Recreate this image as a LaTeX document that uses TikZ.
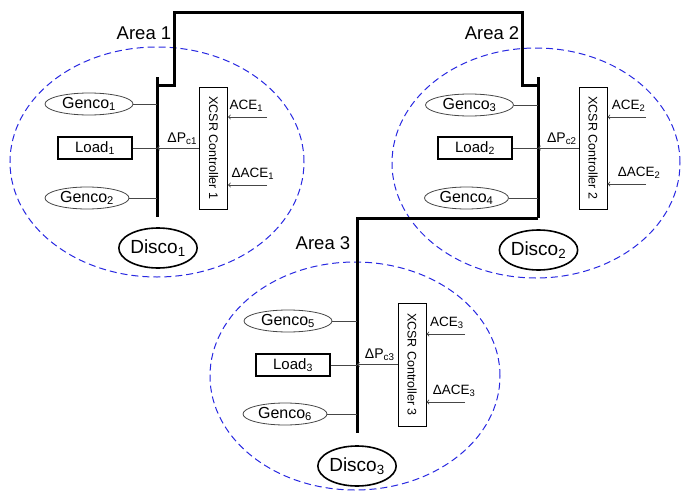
\documentclass[tikz,border=0pt]{standalone}
\usepackage{fontspec}
\setmainfont{Liberation Sans}
\usetikzlibrary{positioning,arrows,shapes.geometric}
\definecolor{areablue}{RGB}{40,40,225}
\definecolor{wiregray}{RGB}{70,70,70}

\begin{document}
\begin{tikzpicture}[x=1pt, y=-1pt,
		gen/.style={draw=wiregray, line width=0.8pt, ellipse, minimum width=88pt,
					minimum height=22pt, inner sep=0pt, font=\fontsize{16}{18}\selectfont},
		load/.style={draw, line width=1.2pt, minimum width=74pt, minimum height=22pt,
					inner sep=0pt, font=\fontsize{15}{17}\selectfont},
		disco/.style={draw, line width=1.6pt, ellipse, minimum width=78pt,
					minimum height=40pt, inner sep=0pt, font=\fontsize{19}{21}\selectfont},
		ctrl/.style={draw, line width=1pt, rotate=-90, minimum width=122pt,
					minimum height=28pt, inner sep=0pt, font=\fontsize{12.5}{14}\selectfont},
		lbl/.style={inner sep=1pt, font=\fontsize{13.5}{16}\selectfont},
		dplbl/.style={inner sep=1pt, font=\fontsize{14}{16}\selectfont},
		arealbl/.style={font=\fontsize{18.5}{20}\selectfont},
		zone/.style={draw=areablue, line width=1pt, dash pattern=on 7pt off 4pt},
		wire/.style={draw=wiregray, line width=0.9pt},
		arrow/.style={wire, ->},
		tie/.style={line width=3pt, line join=miter}
	]
		\useasboundingbox (0,0) rectangle (681,493);

		% area boundaries
		\draw[zone] (157,162) ellipse [x radius=147pt, y radius=115pt];
		\draw[zone] (536,163) ellipse [x radius=144pt, y radius=115pt];
		\draw[zone] (355,376) ellipse [x radius=145pt, y radius=114pt];

		\node[arealbl] (ar1) at (144,33) {Area 1};
		\node[arealbl] (ar2) at (492,33) {Area 2};
		\node[arealbl] (ar3) at (323,243) {Area 3};

		% buses and tie lines
		\coordinate (b1t) at (157,77);
		\coordinate (b1b) at (157,217);
		\coordinate (b2t) at (538,77);
		\coordinate (b2b) at (538,218);
		\coordinate (b3b) at (357,433);
		\coordinate (t1) at (157,85);
		\coordinate (t2) at (538,85);
		\draw[tie] (b1t) -- (b1b);
		\draw[tie] (b2t) -- (b2b);
		\draw[tie] (t1) -- ++(17,0) |- (522,12) |- (t2);
		\draw[tie] (b2b) -| (b3b);

		% Area 1
		\node[gen] (g1) at (89,104) {Genco\textsubscript{1}};
		\node[load] (l1) at (95,148) {Load\textsubscript{1}};
		\node[gen, minimum width=84pt] (g2) at (87,198) {Genco\textsubscript{2}};
		\node[disco] (d1) at (158,248) {Disco\textsubscript{1}};
		\node[ctrl] (c1) at (213.5,148) {XCSR Controller 1};
		\coordinate (a1) at (267,117);
		\coordinate (da1) at (267,185);

		\draw[wire] (g1.east) -- (g1.east -| b1t);
		\draw[wire] (l1.east) -- (l1.east -| b1t);
		\draw[wire] (g2.east) -- (g2.east -| b1t);
		\draw[arrow] (c1.south) -- node[dplbl, above=2pt, pos=0.4] (dp1) {ΔP\textsubscript{c1}} (c1.south -| b1t);
		\draw[arrow] (a1) -- node[lbl, above=4pt, pos=0.53] (ace1) {ACE\textsubscript{1}} (a1 -| c1.north);
		\draw[arrow] (da1) -- node[lbl, above=4pt, pos=0.36] (dace1) {ΔACE\textsubscript{1}} (da1 -| c1.north);

		% Area 2
		\node[gen] (g3) at (469.5,105) {Genco\textsubscript{3}};
		\node[load] (l2) at (475,148) {Load\textsubscript{2}};
		\node[gen, minimum width=84pt] (g4) at (466.5,198) {Genco\textsubscript{4}};
		\node[disco] (d2) at (538.5,250) {Disco\textsubscript{2}};
		\node[ctrl] (c2) at (593,148) {XCSR Controller 2};
		\coordinate (a2) at (646,117);
		\coordinate (da2) at (646,184);

		\draw[wire] (g3.east) -- (g3.east -| b2t);
		\draw[wire] (l2.east) -- (l2.east -| b2t);
		\draw[wire] (g4.east) -- (g4.east -| b2t);
		\draw[arrow] (c2.south) -- node[dplbl, above=2pt, pos=0.41] (dp2) {ΔP\textsubscript{c2}} (c2.south -| b2t);
		\draw[arrow] (a2) -- node[lbl, above=4pt, pos=0.45] (ace2) {ACE\textsubscript{2}} (a2 -| c2.north);
		\draw[arrow] (da2) -- node[lbl, above=4pt, pos=0.18] (dace2) {ΔACE\textsubscript{2}} (da2 -| c2.north);

		% Area 3
		\node[gen] (g5) at (288,321) {Genco\textsubscript{5}};
		\node[load] (l3) at (293,365) {Load\textsubscript{3}};
		\node[gen, minimum width=84pt] (g6) at (285,414) {Genco\textsubscript{6}};
		\node[disco] (d3) at (357,466) {Disco\textsubscript{3}};
		\node[ctrl, minimum width=123pt] (c3) at (412,364.5) {XCSR Controller 3};
		\coordinate (a3) at (465,334);
		\coordinate (da3) at (465,402);

		\draw[wire] (g5.east) -- (g5.east -| b3b);
		\draw[wire] (l3.east) -- (l3.east -| b3b);
		\draw[wire] (g6.east) -- (g6.east -| b3b);
		\draw[arrow] (c3.south) -- node[dplbl, above=2pt, pos=0.44] (dp3) {ΔP\textsubscript{c3}} (c3.south -| b3b);
		\draw[arrow] (a3) -- node[lbl, above=4pt, pos=0.47] (ace3) {ACE\textsubscript{3}} (a3 -| c3.north);
		\draw[arrow] (da3) -- node[lbl, above=4pt, pos=0.28] (dace3) {ΔACE\textsubscript{3}} (da3 -| c3.north);
	\end{tikzpicture}
\end{document}
